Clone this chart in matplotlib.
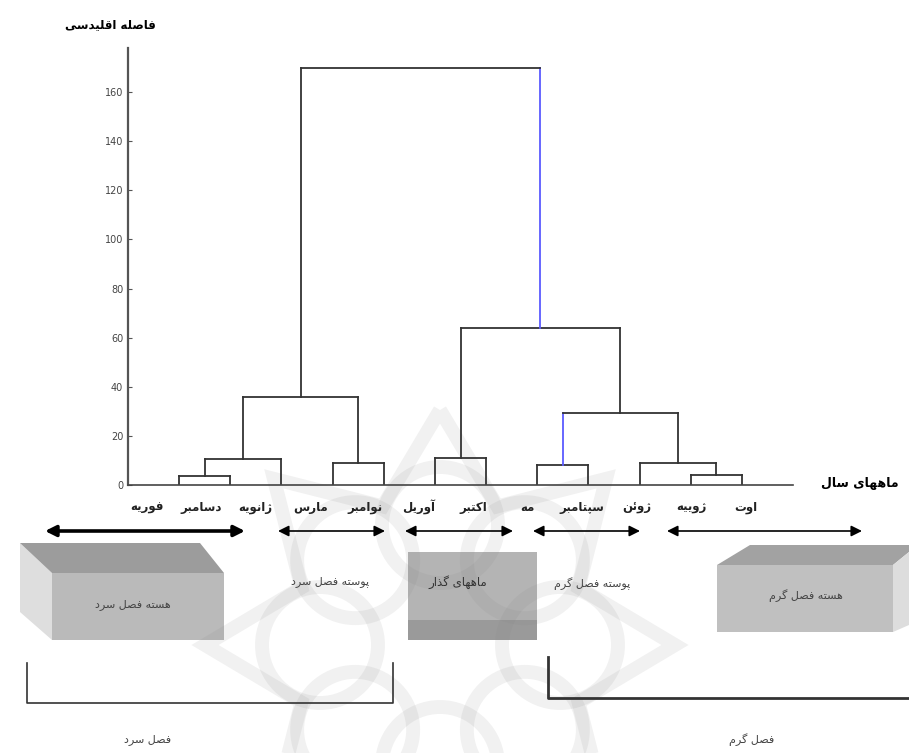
import numpy as np
import matplotlib
matplotlib.use('Agg')
import matplotlib.pyplot as plt
from matplotlib.patches import Polygon, Rectangle, Circle

# Leaves of the dendrogram, left to right
months = ['فوریه', 'دسامبر', 'ژانویه', 'مارس', 'نوامبر', 'آوریل',
          'اکتبر', 'مه', 'سپتامبر', 'ژوئن', 'ژوییه', 'اوت']

# Linkage: (child a, child b, height); new nodes are numbered from 12 upward
link_a = [0, 2, 3, 13, 5, 7, 10, 9, 17, 16, 15]
link_b = [1, 12, 4, 14, 6, 8, 11, 18, 19, 20, 21]
link_h = [3.5, 10.5, 9.0, 36.0, 11.0, 8.2, 4.0, 9.0, 29.5, 64.0, 170.0]

# children whose upward leg is drawn in blue
blue_legs = [17, 21]

yticks = [0, 20, 40, 60, 80, 100, 120, 140, 160]

y_title = 'فاصله اقلیدسی'
x_title = 'ماههای سال'
core_cold = 'هسته فصل سرد'
shell_cold = 'پوسته فصل سرد'
transition = 'ماههای گذار'
shell_warm = 'پوسته فصل گرم'
core_warm = 'هسته فصل گرم'
cold = 'فصل سرد'
warm = 'فصل گرم'

# Persian letters -> presentation forms (isolated, final[, initial, medial])
FORMS = {
    'ا': ('\uFE8D', '\uFE8E'), 'آ': ('\uFE81', '\uFE82'),
    'د': ('\uFEA9', '\uFEAA'), 'ذ': ('\uFEAB', '\uFEAC'),
    'ر': ('\uFEAD', '\uFEAE'), 'ژ': ('\uFB8A', '\uFB8B'),
    'و': ('\uFEED', '\uFEEE'),
    'ب': ('\uFE8F', '\uFE90', '\uFE91', '\uFE92'),
    'پ': ('\uFB56', '\uFB57', '\uFB58', '\uFB59'),
    'ت': ('\uFE95', '\uFE96', '\uFE97', '\uFE98'),
    'س': ('\uFEB1', '\uFEB2', '\uFEB3', '\uFEB4'),
    'ص': ('\uFEB9', '\uFEBA', '\uFEBB', '\uFEBC'),
    'ف': ('\uFED1', '\uFED2', '\uFED3', '\uFED4'),
    'ق': ('\uFED5', '\uFED6', '\uFED7', '\uFED8'),
    'ک': ('\uFB8E', '\uFB8F', '\uFB90', '\uFB91'),
    'گ': ('\uFB92', '\uFB93', '\uFB94', '\uFB95'),
    'ل': ('\uFEDD', '\uFEDE', '\uFEDF', '\uFEE0'),
    'م': ('\uFEE1', '\uFEE2', '\uFEE3', '\uFEE4'),
    'ن': ('\uFEE5', '\uFEE6', '\uFEE7', '\uFEE8'),
    'ه': ('\uFEE9', '\uFEEA', '\uFEEB', '\uFEEC'),
    'ی': ('\uFBFC', '\uFBFD', '\uFBFE', '\uFBFF'),
    'ئ': ('\uFE89', '\uFE8A', '\uFE8B', '\uFE8C'),
}


def fa(s):
    # shape the letters and flip to visual order (no bidi engine here)
    out = []
    for i, ch in enumerate(s):
        if ch not in FORMS:
            out.append(ch)
            continue
        prev = s[i - 1] if i > 0 else ''
        nxt = s[i + 1] if i + 1 < len(s) else ''
        jp = prev in FORMS and len(FORMS[prev]) == 4
        jn = len(FORMS[ch]) == 4 and nxt in FORMS
        f = FORMS[ch]
        if jp and jn:
            out.append(f[3])
        elif jp:
            out.append(f[1])
        elif jn:
            out.append(f[2])
        else:
            out.append(f[0])
    return ''.join(reversed(out))


plt.rcParams['font.family'] = ['DejaVu Sans']
W, H = 909, 753
fig = plt.figure(figsize=(W / 100, H / 100), dpi=100)

# overlay in pixel coordinates for the annotations below the tree
ov = fig.add_axes([0, 0, 1, 1])
ov.set_xlim(0, W)
ov.set_ylim(H, 0)
ov.axis('off')

ax = fig.add_axes([128 / W, 1 - 485 / H, (793 - 128) / W, (485 - 48) / H])
ax.patch.set_alpha(0)

# dendrogram
n = len(months)
xpos = {i: i + 1.0 for i in range(n)}
hpos = {i: 0.0 for i in range(n)}
for k, (a, b, h) in enumerate(zip(link_a, link_b, link_h)):
    node = n + k
    xa, xb = xpos[a], xpos[b]
    ax.plot([xa, xa], [hpos[a], h], color='#5a5aff' if a in blue_legs else '#333333', lw=1.3)
    ax.plot([xb, xb], [hpos[b], h], color='#5a5aff' if b in blue_legs else '#333333', lw=1.3)
    ax.plot([xa, xb], [h, h], color='#333333', lw=1.3)
    xpos[node] = (xa + xb) / 2
    hpos[node] = h

ax.set_xlim(0, n + 1)
ax.set_ylim(0, 178)
ax.set_xticks([])
ax.set_yticks(yticks)
ax.tick_params(axis='y', direction='in', length=3, labelsize=7, labelcolor='#444444', color='#555555')
for s in ['top', 'right']:
    ax.spines[s].set_visible(False)
ax.spines['left'].set_linewidth(1.6)
ax.spines['left'].set_color('#555555')
ax.spines['bottom'].set_linewidth(1.2)
ax.spines['bottom'].set_color('#444444')

# month labels sit a little left of the leaves
label_x = np.linspace(0.37, 12.07, n)
for x, m in zip(label_x, months):
    ax.text(x, -9, fa(m), ha='center', va='center', fontsize=8.5, fontweight='bold', color='#222222', clip_on=False)

ov.text(110, 25, fa(y_title), ha='center', va='center', fontsize=8.5, fontweight='bold')
ov.text(860, 483, fa(x_title), ha='center', va='center', fontsize=9, fontweight='bold')

# double arrows
arrows = [(45, 245, 2.6), (278, 385, 1.2), (405, 513, 1.2), (533, 640, 1.2), (667, 862, 1.2)]
for x1, x2, lw in arrows:
    ov.annotate('', xy=(x2, 531), xytext=(x1, 531),
                arrowprops=dict(arrowstyle='<|-|>', color='black', lw=lw, mutation_scale=16, shrinkA=0, shrinkB=0))

# 3d boxes
ov.add_patch(Polygon([(20, 543), (52, 573), (52, 640), (20, 612)], closed=True, fc='#dedede', ec='none'))
ov.add_patch(Polygon([(20, 543), (200, 543), (224, 573), (52, 573)], closed=True, fc='#9c9c9c', ec='none'))
ov.add_patch(Rectangle((52, 573), 172, 67, fc='#bababa', ec='none'))

ov.add_patch(Rectangle((408, 552), 129, 88, fc='#b4b4b4', ec='none'))
ov.add_patch(Rectangle((408, 620), 129, 20, fc='#9a9a9a', ec='none'))

ov.add_patch(Polygon([(750, 545), (909, 545), (909, 552), (893, 565), (717, 565)], closed=True, fc='#a2a2a2', ec='none'))
ov.add_patch(Polygon([(893, 565), (909, 552), (909, 625), (893, 632)], closed=True, fc='#dddddd', ec='none'))
ov.add_patch(Rectangle((717, 565), 176, 67, fc='#c0c0c0', ec='none'))

# watermark
wc = (440, 645)
for ang in np.arange(0, 360, 45):
    r = np.deg2rad(ang)
    ov.add_patch(Circle((wc[0] + 120 * np.cos(r), wc[1] + 120 * np.sin(r)), 58,
                        fill=False, ec='gray', lw=10, alpha=0.11))
star = []
for i in range(16):
    r = np.deg2rad(i * 22.5 - 90)
    rad = 235 if i % 2 == 0 else 150
    star.append((wc[0] + rad * np.cos(r), wc[1] + rad * np.sin(r)))
ov.add_patch(Polygon(star, closed=True, fill=False, ec='gray', lw=10, alpha=0.11))

# texts
ov.text(133, 605, fa(core_cold), ha='center', va='center', fontsize=8, color='#444444')
ov.text(330, 582, fa(shell_cold), ha='center', va='center', fontsize=8, color='#444444')
ov.text(458, 582, fa(transition), ha='center', va='center', fontsize=8.5, color='#333333')
ov.text(592, 584, fa(shell_warm), ha='center', va='center', fontsize=8, color='#444444')
ov.text(806, 596, fa(core_warm), ha='center', va='center', fontsize=8, color='#444444')

# brackets
ov.plot([27, 27, 393, 393], [663, 703, 703, 663], color='#333333', lw=1.2)
ov.plot([548, 548, 909], [657, 698, 698], color='#333333', lw=2)
ov.text(148, 740, fa(cold), ha='center', va='center', fontsize=8, color='#444444')
ov.text(752, 740, fa(warm), ha='center', va='center', fontsize=8, color='#444444')

plt.savefig('out.png', dpi=100)
